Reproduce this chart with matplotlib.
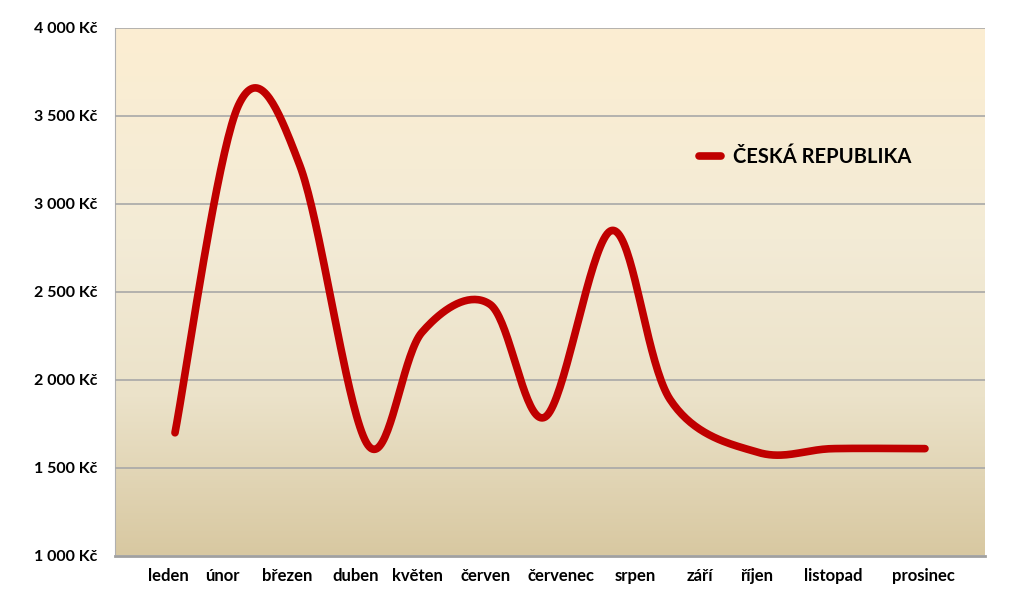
import numpy as np
import matplotlib
matplotlib.use("Agg")
import matplotlib.pyplot as plt
from matplotlib.colors import LinearSegmentedColormap
from matplotlib.ticker import FuncFormatter

# data
months = ["leden", "únor", "březen", "duben", "květen", "červen",
          "červenec", "srpen", "září", "říjen", "listopad", "prosinec"]
month_x = [0.0, 0.93, 1.83, 2.83, 3.62, 4.62, 5.43, 6.41, 7.26, 8.54, 9.65, 11.0]
label_x = [-0.10, 0.70, 1.64, 2.65, 3.56, 4.55, 5.66, 6.75, 7.70, 8.54, 9.65, 10.97]
prices = [1700, 3560, 3220, 1630, 2270, 2430, 1790, 2850, 1890, 1590, 1610, 1610]
series_name = "ČESKÁ REPUBLIKA"


def catmull_rom(x, y, n=40):
    # smooth line through the points, like Excel's smoothed line
    p = np.column_stack([x, y]).astype(float)
    p = np.vstack([p[0], p, p[-1]])
    out = []
    t = np.linspace(0, 1, n)[:, None]
    for i in range(1, len(p) - 2):
        p0, p1, p2, p3 = p[i - 1], p[i], p[i + 1], p[i + 2]
        seg = 0.5 * ((2 * p1) + (-p0 + p2) * t + (2 * p0 - 5 * p1 + 4 * p2 - p3) * t**2
                     + (-p0 + 3 * p1 - 3 * p2 + p3) * t**3)
        out.append(seg if i == 1 else seg[1:])
    out = np.vstack(out)
    return out[:, 0], out[:, 1]


plt.rcParams['font.family'] = ['Lato', 'DejaVu Sans']

fig = plt.figure(figsize=(10.24, 5.97), dpi=100)
ax = fig.add_axes([0.1123, 0.0687, 0.8496, 0.8844])

xmin, xmax = -0.88, 11.88
ax.set_xlim(xmin, xmax)
ax.set_ylim(1000, 4000)

# background gradient
cmap = LinearSegmentedColormap.from_list(
    "bg", [(0, "#D8C8A1"), (0.3, "#EBE2C9"), (0.6, "#F3EBD6"), (1, "#FCEED2")])
grad = np.linspace(0, 1, 256)[:, None]
ax.imshow(grad, aspect="auto", cmap=cmap, origin="lower",
          extent=[xmin, xmax, 1000, 4000], zorder=0)

ax.set_yticks(np.arange(1000, 4001, 500))
ax.yaxis.set_major_formatter(FuncFormatter(lambda v, _: f"{int(v):,} Kč".replace(",", " ")))
ax.grid(axis="y", color="#A8A8A8", linewidth=1.2, zorder=1)
ax.set_axisbelow(False)

sx, sy = catmull_rom(month_x, prices)
ax.plot(sx, sy, color="#C00000", linewidth=5.5, solid_capstyle="round",
        label=series_name, zorder=3)

ax.set_xticks(label_x)
ax.set_xticklabels(months)
ax.tick_params(axis="both", length=0)
ax.tick_params(axis="x", pad=9, labelsize=12)
ax.tick_params(axis="y", pad=13, labelsize=11.5)
for lab in ax.get_xticklabels() + ax.get_yticklabels():
    lab.set_fontweight("bold")

for side in ["top", "right"]:
    ax.spines[side].set_visible(False)
ax.spines["left"].set_color("#B0B0B0")
ax.spines["bottom"].set_color("#A0A0A0")
ax.spines["bottom"].set_linewidth(2)

leg = ax.legend(loc="center left", bbox_to_anchor=(0.65, 0.756), frameon=False,
                handlelength=1.1, handletextpad=0.6,
                prop={"weight": "bold", "size": 14.5})

fig.savefig("out.png", dpi=100)
